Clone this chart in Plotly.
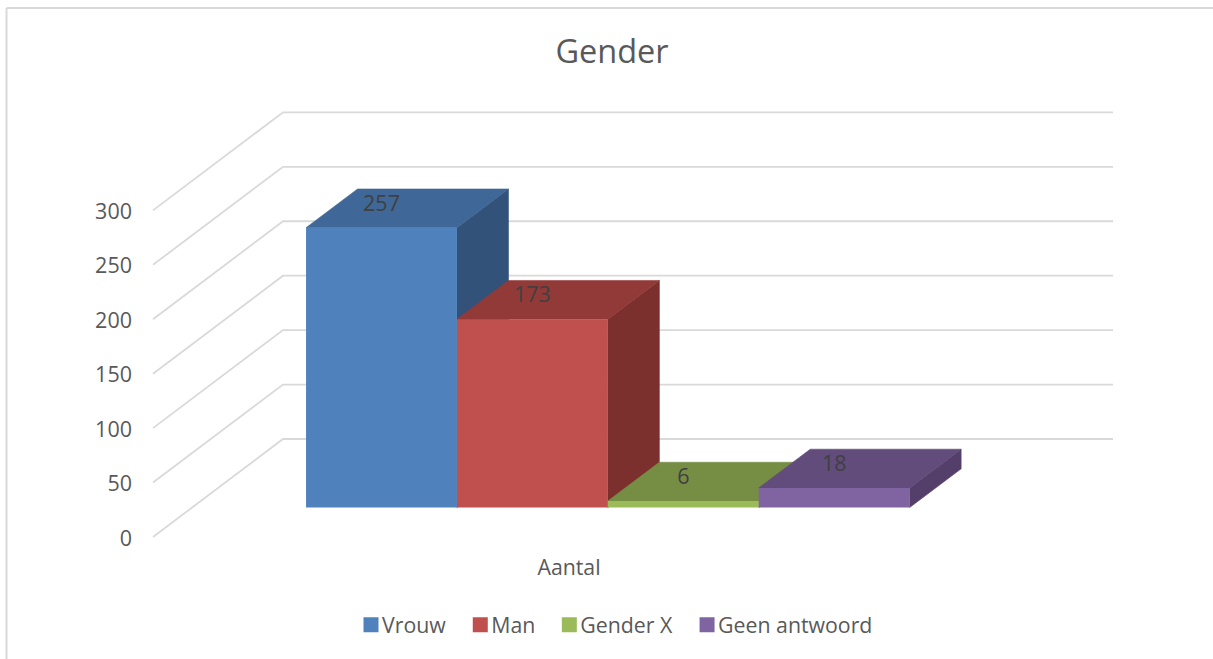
import plotly.graph_objects as go

# --- data ---
categories = ["Vrouw", "Man", "Gender X", "Geen antwoord"]
values = [257, 173, 6, 18]
tick_vals = [0, 50, 100, 150, 200, 250, 300]
axis_category = "Aantal"
title_text = "Gender"

front_colors = ["#4F81BD", "#C0504D", "#9BBB59", "#8064A2"]
top_colors = ["#3F6797", "#923A38", "#768E44", "#614C7B"]
side_colors = ["#33527A", "#7C302E", "#62763A", "#533F69"]

# --- projection (pixel scales of the 3-D look) ---
W, H = 1213, 659
PX_Y = 1.0887      # pixels per unit of value
PX_X = 150.9       # pixels per bar slot
X0 = 381.5         # pixel of first bar centre
WALL_Y0 = 537      # pixel of value 0 on the front edge of the floor
LABEL_Y0 = 538     # pixel of the tick label for value 0
BAR_Y0 = 507.5     # pixel of value 0 at the front of the bars


def x_of(px):
    return (px - X0) / PX_X


def y_range(zero_px):
    return [-(H - zero_px) / PX_Y, zero_px / PX_Y]


bar_dx = 51.5 / PX_X
bar_dy = 38.7 / PX_Y
wall_dy = 98 / PX_Y
wall_shift = (LABEL_Y0 - WALL_Y0) / PX_Y
wall_front, wall_back, wall_right = x_of(153), x_of(283), x_of(1113)
label_dy = 22.5 / PX_Y

fig = go.Figure()

# wall / floor grid lines
gx, gy = [], []
for v in tick_vals:
    gx += [wall_front, wall_back, wall_right, None]
    gy += [v + wall_shift, v + wall_shift + wall_dy, v + wall_shift + wall_dy, None]
fig.add_trace(go.Scatter(x=gx, y=gy, mode="lines", line=dict(color="#D9D9D9", width=1.8),
                         showlegend=False, hoverinfo="skip", yaxis="y"))

# side and top faces, left to right
for i, v in enumerate(values):
    l, r = i - 0.5, i + 0.5
    fig.add_trace(go.Scatter(
        x=[r, r, r + bar_dx, r + bar_dx, r], y=[0, v, v + bar_dy, bar_dy, 0],
        mode="lines", fill="toself", fillcolor=side_colors[i],
        line=dict(width=0.6, color=side_colors[i]),
        showlegend=False, hoverinfo="skip", yaxis="y2"))
    fig.add_trace(go.Scatter(
        x=[l, l + bar_dx, r + bar_dx, r, l], y=[v, v + bar_dy, v + bar_dy, v, v],
        mode="lines", fill="toself", fillcolor=top_colors[i],
        line=dict(width=0.6, color=top_colors[i]),
        showlegend=False, hoverinfo="skip", yaxis="y2"))

# front faces
fig.add_trace(go.Bar(x=list(range(len(values))), y=values, width=1,
                     marker=dict(color=front_colors, line=dict(width=0)),
                     showlegend=False, hovertext=categories, yaxis="y3"))

# data labels on the top faces
fig.add_trace(go.Scatter(x=list(range(len(values))), y=[v + label_dy for v in values],
                         mode="text", text=[str(v) for v in values], textposition="middle center",
                         textfont=dict(family="Open Sans", size=21.5, color="#404040"),
                         showlegend=False, hoverinfo="skip", yaxis="y3"))

# legend entries
for name, c in zip(categories, front_colors):
    fig.add_trace(go.Scatter(x=[None], y=[None], mode="markers", name=name,
                             marker=dict(symbol="square", size=15, color=c), yaxis="y3"))

fig.update_layout(
    width=W, height=H,
    autosize=False,
    margin=dict(l=0, r=0, t=0, b=0),
    paper_bgcolor="white", plot_bgcolor="white",
    font=dict(family="Open Sans", color="#595959", size=21),
    title=dict(text=title_text, x=612 / W, xanchor="center", y=1 - 52 / H, yanchor="middle",
               font=dict(family="Open Sans", size=32.5, color="#595959")),
    barmode="overlay",
    xaxis=dict(range=[x_of(0), x_of(W)], domain=[0, 1], anchor="free", position=1 - 553 / H,
               showgrid=False, zeroline=False, showline=False, ticks="",
               tickvals=[x_of(569)], ticktext=[axis_category],
               tickfont=dict(size=21.3, color="#595959")),
    yaxis=dict(range=y_range(LABEL_Y0), domain=[0, 1], anchor="free", position=132 / W,
               showgrid=False, zeroline=False, showline=False, ticks="",
               tickvals=tick_vals, tickfont=dict(size=21.5, color="#595959")),
    yaxis2=dict(range=y_range(BAR_Y0), domain=[0, 1], overlaying="y", visible=False),
    yaxis3=dict(range=y_range(BAR_Y0), domain=[0, 1], overlaying="y", visible=False),
    legend=dict(orientation="h", x=619 / W, xanchor="center", y=1 - 625 / H, yanchor="middle",
                font=dict(size=21.3, color="#595959"), itemwidth=30, traceorder="normal"),
    shapes=[
        dict(type="line", xref="paper", yref="paper", x0=6.5 / W, x1=6.5 / W, y0=0, y1=1 - 8 / H,
             line=dict(color="#D9D9D9", width=2)),
        dict(type="line", xref="paper", yref="paper", x0=6.5 / W, x1=1, y0=1 - 8 / H, y1=1 - 8 / H,
             line=dict(color="#D9D9D9", width=2)),
    ],
)

fig.write_html("out.html", config=dict(displayModeBar=False),
               post_script=(
                   "document.body.style.margin='0';document.body.style.overflow='hidden';"
                   "document.querySelectorAll('.legendtext').forEach(function(t){"
                   "t.setAttribute('x',parseFloat(t.getAttribute('x'))-9);});"
               ))
